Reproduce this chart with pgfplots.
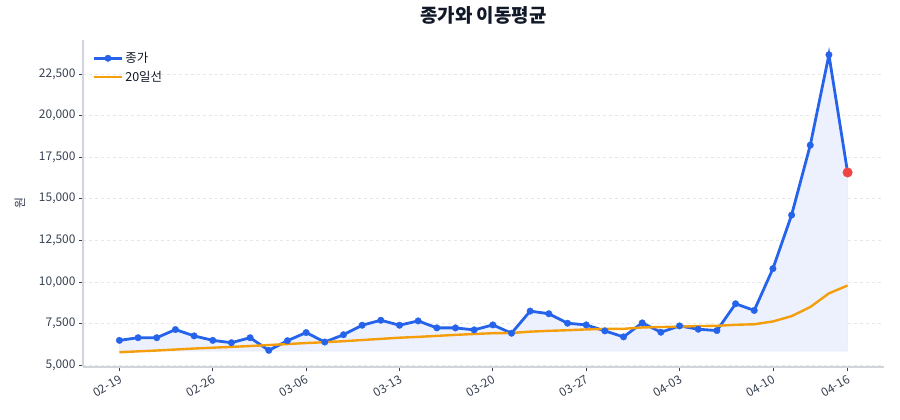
\documentclass[border=0pt]{standalone}
\usepackage{fontspec}
\setmainfont{Noto Sans CJK KR}
\usepackage{pgfplots}
\usepackage{pgfplotstable}
\pgfplotsset{compat=1.18}

\definecolor{priceblue}{HTML}{2563EB}
\definecolor{maorange}{HTML}{F59E0B}
\definecolor{lastred}{HTML}{EF4444}
\definecolor{gridc}{HTML}{E5E7EB}
\definecolor{spinec}{HTML}{D1D5DB}
\definecolor{labc}{HTML}{374151}
\definecolor{titlec}{HTML}{111827}
\definecolor{areac}{HTML}{ECF1FD}

% trading-day index, close, 20-day moving average
\pgfplotstableread{
idx close ma
0  6490  5780
1  6650  5830
2  6650  5880
3  7140  5940
4  6760  6000
5  6490  6050
6  6350  6100
7  6650  6150
8  5890  6210
9  6470  6270
10 6960  6330
11 6390  6380
12 6830  6440
13 7400  6510
14 7700  6580
15 7400  6650
16 7660  6700
17 7240  6760
18 7240  6820
19 7120  6874
20 7420  6921
21 6920  6934
22 8250  7014
23 8090  7062
24 7520  7100
25 7420  7146
26 7060  7182
27 6700  7184
28 7540  7267
29 6980  7292
30 7360  7312
31 7160  7351
32 7080  7363
33 8690  7428
34 8290  7457
35 10800 7627
36 14020 7945
37 18220 8494
38 23650 9315
39 16580 9788
}\pricedata

\begin{document}
\begin{tikzpicture}
\path[use as bounding box] (0,0) rectangle (900bp,420bp);
\begin{axis}[
  at={(83bp,53bp)}, anchor=south west,
  width=801bp, height=327bp, scale only axis,
  xmin=-1.95, xmax=40.95, ymin=4890, ymax=24540,
  axis x line*=bottom, axis y line*=left,
  x axis line style={-}, y axis line style={-},
  axis line style={draw=spinec, line width=1.2bp},
  xtick={0,5,10,15,20,25,30,35,39},
  xticklabels={02-19,02-26,03-06,03-13,03-20,03-27,04-03,04-10,04-16},
  ytick={5000,7500,10000,12500,15000,17500,20000,22500},
  tick align=outside, major tick length=4bp,
  tick style={draw=labc, line width=0.8bp},
  /pgf/number format/assume math mode=true,
  /pgf/number format/fixed,
  /pgf/number format/precision=0,
  /pgf/number format/1000 sep={,},
  scaled y ticks=false,
  x tick label style={rotate=30, anchor=north east, font=\fontsize{12}{14}\selectfont, text=labc, inner sep=2.5bp},
  y tick label style={font=\fontsize{12}{14}\selectfont, text=labc},
  ymajorgrids, grid style={dashed, draw=gridc, line width=0.8bp},
  ylabel={원}, ylabel style={font=\fontsize{12}{14}\selectfont, text=labc, yshift=7bp},
  title={종가와 이동평균},
  title style={font=\bfseries\fontsize{19}{22}\selectfont, text=titlec, at={(0.5,1)}, anchor=center, yshift=19bp},
  legend style={at={(0.008,0.975)}, anchor=north west, draw=none, fill=none,
    font=\fontsize{12.5}{14}\selectfont, text=titlec, row sep=3bp},
  legend cell align=left,
  legend image code/.code={\draw[mark repeat=2, mark phase=2, #1] plot coordinates {(0bp,0bp) (14bp,0bp) (28bp,0bp)};},
]
% shaded area under the closing price
\addplot[fill=areac, draw=priceblue!12, line width=0.6bp, forget plot] coordinates {
 (0,5850) (0,6490) (1,6650) (2,6650) (3,7140) (4,6760) (5,6490) (6,6350) (7,6650) (8,5890) (9,6470)
 (10,6960) (11,6390) (12,6830) (13,7400) (14,7700) (15,7400) (16,7660) (17,7240) (18,7240) (19,7120)
 (20,7420) (21,6920) (22,8250) (23,8090) (24,7520) (25,7420) (26,7060) (27,6700) (28,7540) (29,6980)
 (30,7360) (31,7160) (32,7080) (33,8690) (34,8290) (35,10800) (36,14020) (37,18220) (38,23650) (39,16580)
 (39,5850)} -- cycle;
\addplot[priceblue, line width=2.8bp, mark=*, mark size=3.3bp, mark options={solid, fill=priceblue, draw=priceblue, line width=0.3bp}]
  table[x=idx, y=close] {\pricedata};
\addlegendentry{종가}
\addplot[maorange, line width=2.4bp] table[x=idx, y=ma] {\pricedata};
\addlegendentry{20일선}
% latest close highlighted
\addplot[only marks, mark=*, mark size=4.8bp, mark options={fill=lastred, draw=lastred, line width=0.3bp}, forget plot] coordinates {(39,16580)};
\end{axis}
\end{tikzpicture}
\end{document}
